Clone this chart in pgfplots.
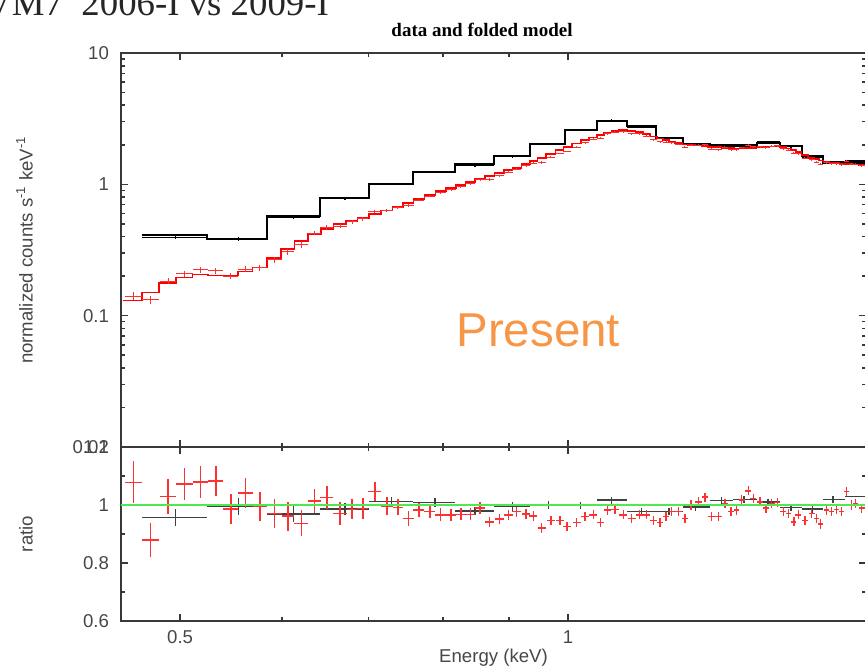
\documentclass[border=0pt]{standalone}
\usepackage{pgfplots}
\pgfplotsset{compat=1.18}
\usepackage{pgfplotstable}
\usepackage{fontspec}
\setmainfont{Liberation Sans}
\newfontfamily\timesfont{Liberation Serif}
\definecolor{axgray}{gray}{0.22}
\definecolor{lblgray}{gray}{0.28}
\definecolor{presentorange}{RGB}{247,150,70}
\definecolor{ratiogreen}{RGB}{80,232,80}
\definecolor{xred}{RGB}{250,50,50}

% red spectrum: energy, folded model, data/model ratio, ratio error, relative half bin width
\pgfplotstableread{
E m r dr hw
0.4600 0.1308 1.078 0.072 0.0149
0.4743 0.1500 0.879 0.060 0.0158
0.4894 0.1783 1.029 0.060 0.0149
0.5038 0.1948 1.072 0.055 0.0149
0.5187 0.2063 1.080 0.055 0.0140
0.5331 0.2027 1.083 0.053 0.0134
0.5476 0.2024 0.986 0.053 0.0134
0.5620 0.2167 1.042 0.052 0.0127
0.5765 0.2321 0.994 0.050 0.0127
0.5918 0.2746 0.971 0.050 0.0134
0.6063 0.3199 0.962 0.050 0.0110
0.6209 0.3693 0.937 0.045 0.0129
0.6358 0.4198 1.014 0.040 0.0109
0.6501 0.4588 1.025 0.040 0.0115
0.6655 0.4958 0.971 0.040 0.0120
0.6798 0.5262 0.985 0.035 0.0093
0.6930 0.5557 0.988 0.035 0.0102
0.7081 0.5920 1.046 0.033 0.0115
0.7235 0.6326 0.997 0.030 0.0104
0.7380 0.6753 0.992 0.028 0.0095
0.7518 0.7216 0.954 0.025 0.0095
0.7663 0.7727 0.983 0.025 0.0098
0.7815 0.8318 0.977 0.022 0.0098
0.7967 0.8922 0.966 0.022 0.0095
0.8114 0.9421 0.966 0.020 0.0090
0.8258 0.9861 0.968 0.020 0.0086
0.8399 1.0394 0.968 0.020 0.0086
0.8546 1.0965 0.990 0.020 0.0090
0.8692 1.155 0.941 0.018 0.0078
0.8846 1.219 0.951 0.018 0.0078
0.8988 1.279 0.966 0.018 0.0075
0.9124 1.338 0.977 0.017 0.0075
0.9277 1.428 0.969 0.017 0.0070
0.9399 1.502 0.962 0.017 0.0070
0.9541 1.595 0.920 0.017 0.0075
0.9696 1.701 0.946 0.016 0.0075
0.9858 1.815 0.946 0.016 0.0070
0.9985 1.923 0.925 0.016 0.0070
1.0156 2.042 0.939 0.016 0.0070
1.0308 2.163 0.960 0.016 0.0070
1.0462 2.276 0.966 0.016 0.0070
1.0601 2.382 0.939 0.016 0.0065
1.0735 2.480 0.983 0.016 0.0065
1.0875 2.533 0.985 0.016 0.0068
1.1038 2.592 0.966 0.016 0.0070
1.1205 2.546 0.954 0.016 0.0070
1.1358 2.507 0.966 0.016 0.0065
1.1509 2.408 0.966 0.016 0.0062
1.1646 2.316 0.946 0.016 0.0060
1.1786 2.237 0.939 0.016 0.0058
1.1913 2.178 0.960 0.016 0.0052
1.2035 2.122 0.977 0.016 0.0055
1.2178 2.060 0.977 0.016 0.0058
1.2324 2.010 0.954 0.016 0.0055
1.2457 1.992 1.000 0.016 0.0058
1.2621 1.971 1.011 0.016 0.0062
1.2772 1.951 1.027 0.016 0.0060
1.2926 1.934 0.960 0.016 0.0060
1.3079 1.917 0.960 0.016 0.0058
1.3236 1.900 1.006 0.016 0.0055
1.3380 1.884 0.977 0.016 0.0052
1.3517 1.871 0.983 0.016 0.0048
1.3638 1.877 1.017 0.016 0.0052
1.3800 1.891 1.049 0.016 0.0052
1.3924 1.897 1.023 0.016 0.0055
1.4092 1.910 1.011 0.016 0.0055
1.4243 1.927 0.989 0.016 0.0052
1.4390 1.941 1.006 0.016 0.0050
1.4534 1.954 1.008 0.016 0.0052
1.4691 1.913 0.977 0.016 0.0050
1.4823 1.877 0.971 0.016 0.0048
1.4974 1.831 0.942 0.016 0.0045
1.5089 1.766 0.966 0.016 0.0050
1.5270 1.666 0.946 0.016 0.0058
1.5455 1.586 0.971 0.016 0.0052
1.5593 1.550 0.954 0.016 0.0040
1.5706 1.521 0.934 0.016 0.0045
1.5874 1.481 0.983 0.016 0.0050
1.6017 1.468 0.977 0.016 0.0045
1.6160 1.455 0.985 0.016 0.0045
1.6305 1.443 0.977 0.016 0.0045
1.6451 1.433 1.046 0.016 0.0045
1.6599 1.420 1.000 0.016 0.0040
1.6711 1.413 1.006 0.016 0.0045
1.6898 1.398 0.989 0.016 0.0055
}\redtab

% black spectrum: bin centre, bin edges, folded model, ratio, ratio error
\pgfplotstableread{
E lo hi m r dr
0.4956 0.4673 0.5248 0.411 0.956 0.029
0.5550 0.5248 0.5842 0.386 0.994 0.030
0.6122 0.5842 0.6421 0.574 0.969 0.026
0.6714 0.6421 0.7009 0.792 0.986 0.020
0.7299 0.7009 0.7581 1.000 1.011 0.017
0.7885 0.7581 0.8172 1.240 1.009 0.015
0.8469 0.8172 0.8762 1.420 0.979 0.015
0.9056 0.8762 0.9344 1.630 0.994 0.015
0.9654 0.9344 0.9946 2.040 1.000 0.013
1.0231 0.9946 1.0531 2.590 0.997 0.012
1.0812 1.0531 1.1111 3.030 1.017 0.012
1.1399 1.1111 1.1702 2.780 0.977 0.012
1.1977 1.1702 1.2280 2.270 0.977 0.012
1.2557 1.2280 1.2887 2.040 0.993 0.012
1.3159 1.2887 1.3428 1.960 1.015 0.012
1.3694 1.3428 1.4016 1.960 1.020 0.012
1.4295 1.4016 1.4605 2.080 1.010 0.012
1.4895 1.4605 1.5189 1.960 0.990 0.012
1.5477 1.5189 1.5770 1.640 0.986 0.012
1.6054 1.5770 1.6401 1.460 1.020 0.012
1.7100 1.6401 1.7800 1.460 1.030 0.012
}\blacktab

\begin{document}
\begin{tikzpicture}[x=1pt,y=1pt]

% ---------------- upper panel ----------------
\begin{axis}[
  scale only axis, width=372.5pt, height=197pt,
  at={(60.5pt,110.5pt)}, anchor=south west,
  xmode=log, xmin=0.4499, xmax=1.703,
  ymode=log, ymin=0.01, ymax=10,
  axis line style={line width=0.9pt, draw=axgray},
  tick style={line width=0.8pt, draw=axgray},
  tick align=inside, tick pos=both,
  major tick length=3.5pt, minor tick length=2pt,
  xtick={0.5,1}, xticklabels={},
  minor xtick={0.6,0.7,0.8,0.9},
  ytick={0.01,0.1,1,10}, yticklabels={0.01,0.1,1,10},
  minor ytick={0.02,0.03,0.04,0.05,0.06,0.07,0.08,0.09,
               0.2,0.3,0.4,0.5,0.6,0.7,0.8,0.9,
               2,3,4,5,6,7,8,9},
  ticklabel style={font=\fontsize{9.3}{10}\selectfont, text=lblgray},
  yticklabel style={xshift=-2.5pt},
  ylabel={normalized counts s\textsuperscript{-1} keV\textsuperscript{-1}},
  ylabel style={at={(axis description cs:-0.1185,0.5)}, anchor=base,
    font=\fontsize{9.3}{10}\selectfont, text=lblgray},
  clip=true,
]
% black folded model (histogram)
\addplot[black, line width=1pt, const plot] table[x=lo, y=m] {\blacktab};
\addplot[black, line width=1pt] coordinates {(1.6401,1.46) (1.78,1.46)};
% black data
\addplot[draw=none, mark=none,
  error bars/.cd, x dir=both, y dir=both, x explicit, y explicit, error mark=none,
  error bar style={draw=black, line width=0.6pt}]
  table[x=E, y expr=\thisrow{m}*\thisrow{r},
        x error plus expr=\thisrow{hi}-\thisrow{E},
        x error minus expr=\thisrow{E}-\thisrow{lo},
        y error expr=\thisrow{m}*\thisrow{dr}] {\blacktab};
% red folded model (histogram)
\addplot[red, line width=0.85pt, const plot mark mid] table[x=E, y=m] {\redtab};
\addplot[red, line width=0.85pt] coordinates {(0.4514,0.1308) (0.4600,0.1308)};
\addplot[red, line width=0.85pt] coordinates {(1.6898,1.398) (1.75,1.398)};
% red data
\addplot[draw=none, mark=none,
  error bars/.cd, x dir=both, y dir=both, x explicit relative, y explicit, error mark=none,
  error bar style={draw=xred, line width=0.5pt}]
  table[x=E, y expr=\thisrow{m}*\thisrow{r}, x error=hw,
        y error expr=\thisrow{m}*\thisrow{dr}] {\redtab};
\end{axis}

% ---------------- ratio panel ----------------
\begin{axis}[
  scale only axis, width=372.5pt, height=87pt,
  at={(60.5pt,23.5pt)}, anchor=south west,
  xmode=log, xmin=0.4499, xmax=1.703,
  ymin=0.6, ymax=1.2,
  axis line style={line width=0.9pt, draw=axgray},
  tick style={line width=0.8pt, draw=axgray},
  tick align=inside, tick pos=both,
  major tick length=3.5pt, minor tick length=2pt,
  xtick={0.5,1}, xticklabels={0.5,1},
  minor xtick={0.6,0.7,0.8,0.9},
  ytick={0.6,0.8,1,1.2}, yticklabels={0.6,0.8,1,1.2},
  minor ytick={0.7,0.9,1.1},
  ticklabel style={font=\fontsize{9.3}{10}\selectfont, text=lblgray},
  yticklabel style={xshift=-2.5pt},
  xticklabel style={yshift=-1.2pt},
  xlabel={Energy (keV)},
  xlabel style={at={(axis description cs:0.5,0)}, anchor=base, yshift=-20.85pt,
    font=\fontsize{9.3}{10}\selectfont, text=lblgray},
  ylabel={ratio},
  ylabel style={at={(axis description cs:-0.1185,0.5)}, anchor=base,
    font=\fontsize{9.3}{10}\selectfont, text=lblgray},
  clip=true,
]
\addplot[draw=none, mark=none,
  error bars/.cd, x dir=both, y dir=both, x explicit, y explicit, error mark=none,
  error bar style={draw=black!75, line width=0.6pt}]
  table[x=E, y=r,
        x error plus expr=\thisrow{hi}-\thisrow{E},
        x error minus expr=\thisrow{E}-\thisrow{lo},
        y error=dr] {\blacktab};
\addplot[draw=none, mark=none,
  error bars/.cd, x dir=both, y dir=both, x explicit relative, y explicit, error mark=none,
  error bar style={draw=xred, line width=0.75pt}]
  table[x=E, y=r, x error=hw, y error=dr] {\redtab};
\addplot[ratiogreen, line width=1.3pt] coordinates {(0.44,1) (1.8,1)};
\end{axis}

% ---------------- titles and overlay text ----------------
\node[anchor=base west, inner sep=0pt, text=black!85]
  at (-7.5pt,326pt) {\timesfont\fontsize{18.4}{20}\selectfont VM7\hspace{0.25em} 2006-I vs 2009-I};
\node[anchor=base, inner sep=0pt]
  at (241pt,315.5pt) {\timesfont\bfseries\fontsize{9.5}{11}\selectfont data and folded model};
\node[anchor=base west, inner sep=0pt, text=presentorange]
  at (228pt,160.7pt) {\fontsize{23.75}{26}\selectfont Present};

\pgfresetboundingbox
\path[use as bounding box] (0,0) rectangle (432.5pt,334pt);
\end{tikzpicture}
\end{document}
